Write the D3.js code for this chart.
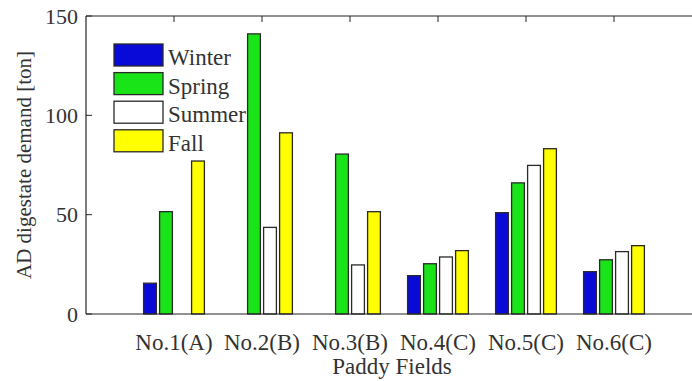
<!DOCTYPE html>
<html>
<head>
<meta charset="utf-8">
<script src="https://cdn.jsdelivr.net/npm/d3@7"></script>
<style>
  body { margin: 0; background: #fff; }
  svg text { font-family: "Liberation Serif", "Times New Roman", serif; fill: #333; }
</style>
</head>
<body>
<div id="chart"></div>
<script>
// Paddy field demand per season
const fields = ["No.1(A)", "No.2(B)", "No.3(B)", "No.4(C)", "No.5(C)", "No.6(C)"];
const seasons = ["Winter", "Spring", "Summer", "Fall"];
const winter = [15.5, 0, 0, 19.3, 51, 21.3];
const spring = [51.5, 141, 80.5, 25.3, 66, 27.3];
const summer = [0, 43.6, 24.7, 28.7, 74.8, 31.4];
const fall = [77, 91.2, 51.5, 31.9, 83.2, 34.4];
const yTicks = [0, 50, 100, 150];

const colors = ["#0a0ad8", "#18e418", "#ffffff", "#ffff00"];
const series = [winter, spring, summer, fall];

const width = 692, height = 381;

const svg = d3.select("#chart").append("svg")
  .attr("width", width)
  .attr("height", height);

// x is a linear scale over field index, like matlab's bar axis (0..7)
const x = d3.scaleLinear().domain([0, 7]).range([86, 702]);
const y = d3.scaleLinear().domain([0, 150]).range([314, 16]);

const step = x(1) - x(0);
const groupW = Math.min(0.8, 4 / 5.5) * step;
const slot = groupW / 4;
const barW = slot * 0.8;

const rows = [];
fields.forEach((f, i) => {
  series.forEach((s, j) => {
    rows.push({ i: i + 1, j: j, v: s[i] });
  });
});

svg.append("g")
  .selectAll("rect")
  .data(rows)
  .join("rect")
  .attr("x", d => x(d.i) - groupW / 2 + slot * d.j + (slot - barW) / 2)
  .attr("width", barW)
  .attr("y", d => y(d.v))
  .attr("height", d => y(0) - y(d.v))
  .attr("fill", d => colors[d.j])
  .attr("stroke", "#2a2a2a")
  .attr("stroke-width", 1.3);

// axes
const axisColor = "#262626";
svg.append("line")
  .attr("x1", x(0)).attr("x2", width).attr("y1", y(0)).attr("y2", y(0))
  .attr("stroke", axisColor).attr("stroke-width", 1.2);
svg.append("line")
  .attr("x1", x(0)).attr("x2", width).attr("y1", y(150)).attr("y2", y(150))
  .attr("stroke", axisColor).attr("stroke-width", 1.2);
svg.append("line")
  .attr("x1", x(0)).attr("x2", x(0)).attr("y1", y(0)).attr("y2", y(150))
  .attr("stroke", axisColor).attr("stroke-width", 1.2);

// top ticks at categories
svg.append("g")
  .selectAll("line")
  .data(d3.range(1, 7))
  .join("line")
  .attr("x1", d => x(d)).attr("x2", d => x(d))
  .attr("y1", y(150)).attr("y2", y(150) + 6)
  .attr("stroke", axisColor);

// y ticks
const yAxis = svg.append("g");
yAxis.selectAll("line")
  .data(yTicks)
  .join("line")
  .attr("x1", x(0)).attr("x2", x(0) + 6)
  .attr("y1", d => y(d)).attr("y2", d => y(d))
  .attr("stroke", axisColor);
yAxis.selectAll("text")
  .data(yTicks)
  .join("text")
  .attr("x", 78)
  .attr("y", d => y(d))
  .attr("dy", "0.35em")
  .attr("text-anchor", "end")
  .attr("font-size", 22)
  .text(d => d);

// x labels
svg.append("g")
  .selectAll("text")
  .data(fields)
  .join("text")
  .attr("x", (d, i) => x(i + 1))
  .attr("y", 350)
  .attr("text-anchor", "middle")
  .attr("font-size", 23)
  .text(d => d);

svg.append("text")
  .attr("x", 392)
  .attr("y", 374)
  .attr("text-anchor", "middle")
  .attr("font-size", 23)
  .text("Paddy Fields");

svg.append("text")
  .attr("transform", "translate(31,165) rotate(-90)")
  .attr("text-anchor", "middle")
  .attr("font-size", 21)
  .text("AD digestate demand [ton]");

// legend
const legend = svg.append("g")
  .selectAll("g")
  .data(seasons)
  .join("g")
  .attr("transform", (d, i) => `translate(114,${44 + i * 28.6})`);
legend.append("rect")
  .attr("width", 49)
  .attr("height", 22)
  .attr("fill", (d, i) => colors[i])
  .attr("stroke", "#2a2a2a")
  .attr("stroke-width", 1.3);
legend.append("text")
  .attr("x", 54)
  .attr("y", 21)
  .attr("font-size", 23)
  .text(d => d);
</script>
</body>
</html>
